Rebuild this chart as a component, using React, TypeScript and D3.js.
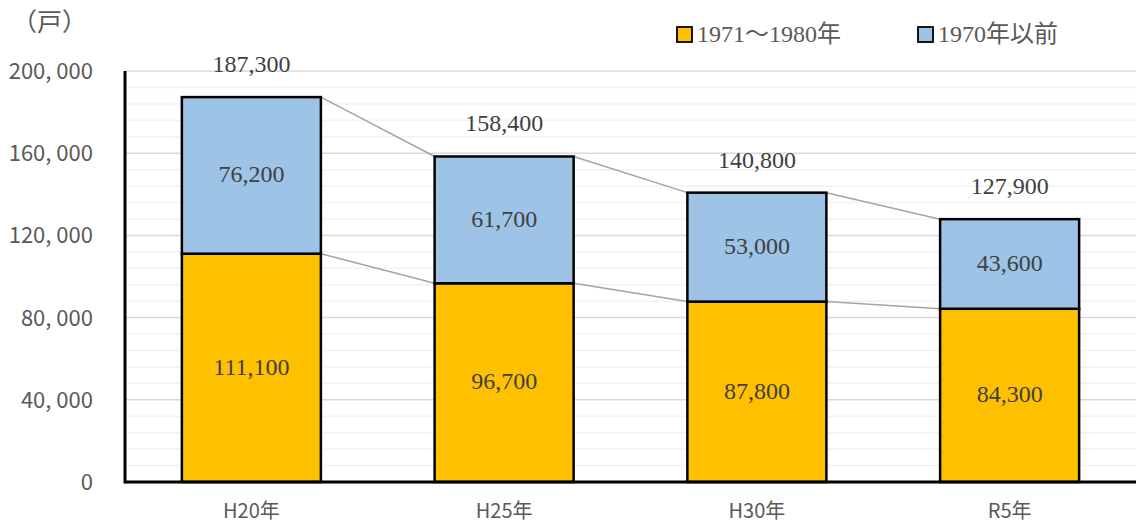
import React from 'react';
import * as d3 from 'd3';

// chart data
const categories = ['H20年', 'H25年', 'H30年', 'R5年'];
const units1971to1980 = [111100, 96700, 87800, 84300];
const unitsBefore1970 = [76200, 61700, 53000, 43600];
const totals = [187300, 158400, 140800, 127900];
const yTicks = [0, 40000, 80000, 120000, 160000, 200000];
const legendLabels = ['1971～1980年', '1970年以前'];

const W = 1136;
const H = 525;
const margin = { top: 71, right: 0, bottom: 43, left: 125 };

const YELLOW = '#FFC000';
const BLUE = '#9DC3E6';
const SERIF = '"Liberation Serif", "Noto Sans CJK JP", serif';
const GOTHIC = '"Noto Sans CJK JP", "Noto Sans", sans-serif';

const fmt = d3.format(',');
const tickFmt = (v: number) => (v === 0 ? '0' : fmt(v).replace(',', ', '));

const App = () => {
  const x = d3.scaleBand<string>()
    .domain(categories)
    .range([margin.left, W - margin.right])
    .paddingInner(0.45)
    .paddingOuter(0.225);

  const y = d3.scaleLinear()
    .domain([0, 200000])
    .range([H - margin.bottom, margin.top]);

  const minorTicks = d3.range(0, 200001, 8000).filter(v => v % 40000 !== 0);
  const bw = x.bandwidth();

  // connector lines between bar tops
  const connectors = (vals: number[]) =>
    categories.slice(0, -1).map((c, i) => ({
      x1: (x(c) as number) + bw,
      y1: y(vals[i]),
      x2: x(categories[i + 1]) as number,
      y2: y(vals[i + 1]),
    }));

  return (
    <svg width={W} height={H} style={{ display: 'block', position: 'absolute', left: 0, top: 0 }}>
      <rect width={W} height={H} fill="#fff" />

      {/* grid */}
      {minorTicks.map(v => (
        <line key={'m' + v} x1={margin.left} x2={W} y1={y(v)} y2={y(v)} stroke="#F2F2F2" strokeWidth={1.5} />
      ))}
      {yTicks.filter(v => v > 0).map(v => (
        <line key={'g' + v} x1={margin.left} x2={W} y1={y(v)} y2={y(v)} stroke="#D9D9D9" strokeWidth={1.5} />
      ))}

      {/* connector lines */}
      {[...connectors(totals), ...connectors(units1971to1980)].map((l, i) => (
        <line key={'c' + i} {...l} stroke="#A5A5A5" strokeWidth={1.5} />
      ))}

      {/* bars */}
      {categories.map((c, i) => {
        const x0 = x(c) as number;
        return (
          <g key={c}>
            <rect x={x0} y={y(units1971to1980[i])} width={bw} height={y(0) - y(units1971to1980[i])}
              fill={YELLOW} stroke="#000" strokeWidth={2.5} />
            <rect x={x0} y={y(totals[i])} width={bw} height={y(units1971to1980[i]) - y(totals[i])}
              fill={BLUE} stroke="#000" strokeWidth={2.5} />
            <text x={x0 + bw / 2} y={(y(0) + y(units1971to1980[i])) / 2} dy="0.28em"
              textAnchor="middle" fontFamily={SERIF} fontSize={24} fill="#404040">
              {fmt(units1971to1980[i])}
            </text>
            <text x={x0 + bw / 2} y={(y(units1971to1980[i]) + y(totals[i])) / 2} dy="0.28em"
              textAnchor="middle" fontFamily={SERIF} fontSize={24} fill="#404040">
              {fmt(unitsBefore1970[i])}
            </text>
            <text x={x0 + bw / 2} y={y(totals[i]) - 25}
              textAnchor="middle" fontFamily={SERIF} fontSize={24} fill="#404040">
              {fmt(totals[i])}
            </text>
            <text x={x0 + bw / 2} y={518} textAnchor="middle" fontFamily={GOTHIC} fontSize={20} fill="#595959">
              {c}
            </text>
          </g>
        );
      })}

      {/* axes */}
      <line x1={margin.left} x2={W} y1={y(0)} y2={y(0)} stroke="#000" strokeWidth={3} />
      <line x1={margin.left} x2={margin.left} y1={y(200000)} y2={y(0) + 1.5} stroke="#000" strokeWidth={3} />
      {yTicks.map(v => (
        <text key={'t' + v} x={93} y={y(v)} dy="0.36em" textAnchor="end" fontFamily={GOTHIC} fontSize={22} fill="#595959">
          {tickFmt(v)}
        </text>
      ))}

      {/* unit */}
      <text x={12} y={31} fontFamily={GOTHIC} fontSize={25} fill="#595959">（戸）</text>

      {/* legend */}
      {legendLabels.map((lab, i) => {
        const lx = i === 0 ? 677 : 918;
        return (
          <g key={lab}>
            <rect x={lx} y={27} width={15} height={15} fill={i === 0 ? YELLOW : BLUE} stroke="#000" strokeWidth={1.8} />
            <text x={lx + 20} y={42} fontFamily={SERIF} fontSize={24} fill="#595959">{lab}</text>
          </g>
        );
      })}
    </svg>
  );
};

export default App;
